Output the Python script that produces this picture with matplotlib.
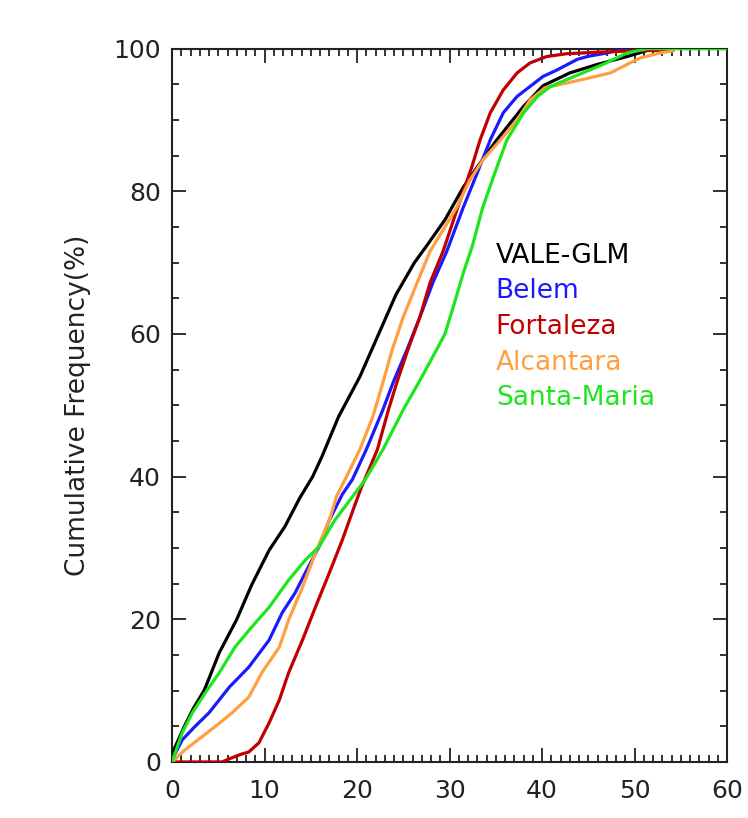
import matplotlib
matplotlib.use("Agg")
import matplotlib.pyplot as plt
from matplotlib.ticker import MultipleLocator

# ---- data ----
labels = ["VALE-GLM", "Belem", "Fortaleza", "Alcantara", "Santa-Maria"]
colors = ["#000000", "#1a1aff", "#c00000", "#ff9f40", "#1ee61e"]

vale_x = [0, 0.3, 1.3, 2.3, 3.5, 5.1, 7.0, 8.6, 10.5, 12.2, 13.8, 15.2, 16.2, 18.0,
          20.3, 22.2, 24.2, 26.2, 27.6, 29.5, 31.5, 33.0, 35.1, 38.0, 40.1, 43.0,
          46.0, 49.2, 51.0, 52.0, 54.0]
vale_y = [0.5, 2.0, 4.9, 7.5, 10.1, 15.3, 20.0, 24.8, 29.7, 33.0, 37.0, 40.0, 42.8, 48.4,
          54.0, 59.6, 65.5, 70.0, 72.5, 76.0, 80.6, 83.4, 87.2, 91.9, 94.8, 96.6,
          97.8, 98.9, 99.6, 100.0, 100.0]

belem_x = [0, 1.1, 2.5, 4.0, 6.2, 8.3, 10.5, 11.9, 13.3, 14.4, 15.9, 17.0, 18.4, 19.5,
           21.0, 22.8, 23.9, 25.4, 26.8, 28.2, 29.7, 31.5, 33.0, 34.4, 35.8, 37.3,
           38.7, 40.1, 41.6, 43.8, 44.9, 47.0, 49.0, 54.0]
belem_y = [0.3, 3.1, 5.0, 6.9, 10.5, 13.3, 17.1, 20.9, 23.7, 26.5, 30.2, 33.9, 37.5, 39.6,
           43.8, 49.4, 53.2, 57.8, 62.4, 67.2, 71.6, 77.8, 82.6, 87.2, 91.0, 93.3,
           94.7, 96.1, 97.0, 98.5, 98.9, 99.4, 100.0, 100.0]

fort_x = [0, 5.4, 6.5, 7.5, 8.3, 9.4, 10.5, 11.6, 12.6, 14.1, 15.5, 17.0, 18.4, 19.7,
          20.5, 22.2, 23.4, 24.3, 25.5, 26.8, 27.9, 29.3, 30.9, 32.4, 33.3, 34.4,
          35.8, 37.3, 38.7, 40.5, 42.7, 46.0, 50.0, 54.0]
fort_y = [0, 0, 0.6, 1.1, 1.4, 2.7, 5.5, 8.7, 12.5, 17.1, 21.7, 26.5, 31.1, 35.8,
          38.6, 43.8, 49.4, 53.2, 57.8, 62.4, 67.2, 71.6, 77.8, 83.4, 87.2, 91.0,
          94.2, 96.6, 98.0, 98.9, 99.3, 99.5, 99.7, 99.8]

alc_x = [0, 1.4, 3.2, 4.6, 6.5, 8.3, 9.7, 11.6, 12.6, 14.1, 15.5, 17.0, 17.8, 18.7,
         20.3, 21.7, 22.8, 23.8, 25.0, 26.5, 27.9, 30.8, 32.2, 33.6, 35.5, 37.3,
         38.7, 40.3, 44.1, 47.4, 49.2, 50.6, 52.8, 54.2]
alc_y = [0, 1.7, 3.5, 4.9, 6.9, 9.1, 12.5, 16.1, 19.9, 24.5, 29.3, 33.9, 37.3, 39.6,
         43.8, 48.4, 53.2, 57.8, 62.4, 67.2, 71.6, 77.8, 81.6, 84.4, 87.2, 90.0,
         92.8, 94.5, 95.6, 96.6, 97.8, 98.7, 99.4, 99.7]

sm_x = [0, 1.1, 2.2, 3.6, 5.1, 6.8, 8.6, 10.5, 12.6, 14.4, 15.9, 17.6, 19.8, 20.9,
        22.8, 25.0, 26.8, 28.6, 29.5, 30.4, 31.5, 32.5, 33.6, 34.9, 36.2, 38.0,
        39.5, 40.9, 44.4, 46.6, 49.2, 51.4, 60.0]
sm_y = [0, 4.1, 6.9, 9.7, 12.5, 16.1, 18.9, 21.7, 25.5, 28.3, 30.2, 33.9, 37.7, 39.6,
        43.8, 49.4, 53.5, 57.8, 60.0, 63.8, 68.6, 72.5, 77.8, 82.6, 87.2, 91.0,
        93.3, 94.7, 96.6, 97.8, 99.4, 100.0, 100.0]

series = [(vale_x, vale_y), (belem_x, belem_y), (fort_x, fort_y),
          (alc_x, alc_y), (sm_x, sm_y)]
label_y = [71, 66, 61, 56, 51]

xticks = [0, 10, 20, 30, 40, 50, 60]
yticks = [0, 20, 40, 60, 80, 100]

# ---- figure ----
fig = plt.figure(figsize=(7.48, 8.18), dpi=100)
ax = fig.add_axes([0.23, 0.0685, 0.742, 0.872])

for (xs, ys), c in zip(series, colors):
    ax.plot(xs, ys, color=c, lw=2.3, solid_joinstyle="miter", zorder=3)

for lab, c, yy in zip(labels, colors, label_y):
    ax.text(35.0, yy, lab, color=c, fontsize=19, ha="left", va="center")

ax.set_xlim(0, 60)
ax.set_ylim(0, 100)
ax.set_xticks(xticks)
ax.set_yticks(yticks)
ax.xaxis.set_minor_locator(MultipleLocator(1))
ax.yaxis.set_minor_locator(MultipleLocator(5))
ax.tick_params(which="both", direction="in", top=True, right=True,
               colors="#222222", width=1.3)
ax.tick_params(which="major", length=10, labelsize=18, pad=12)
ax.tick_params(which="minor", length=5)
ax.tick_params(axis="y", which="major", pad=8)
for sp in ax.spines.values():
    sp.set_linewidth(1.5)
    sp.set_color("#222222")

ax.set_ylabel("Cumulative Frequency(%)", fontsize=19, color="#222222", labelpad=16)

fig.savefig("out.png", dpi=100)
